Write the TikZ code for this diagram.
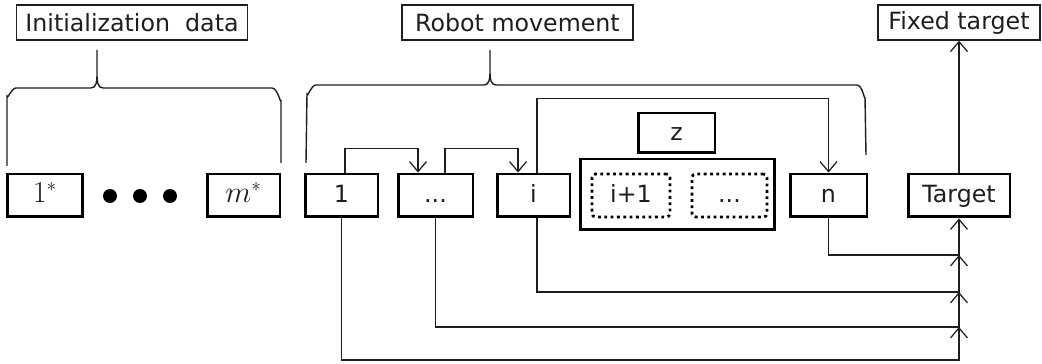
\documentclass[tikz,border=0pt]{standalone}
\usepackage{amsmath}
\usepackage{fontspec}
\usetikzlibrary{arrows.meta,positioning,calc}
\newfontfamily\boxfont{DejaVu Sans}
\definecolor{ink}{RGB}{30,30,30}
\tikzset{
  lbl/.style={draw=ink,line width=0.8pt,minimum height=0.70cm,inner sep=1pt,font=\boxfont\fontsize{13.5}{15}\selectfont,text=ink},
  blk/.style={draw=black,line width=1.7pt,minimum height=0.86cm,inner sep=1pt,text height=10pt,text depth=2pt,font=\boxfont\fontsize{13.5}{15}\selectfont,text=ink},
  dotblk/.style={draw=black,line width=1.6pt,dotted,rounded corners=2pt,minimum height=0.86cm,inner sep=1pt,text height=10pt,text depth=2pt,font=\boxfont\fontsize{13.5}{15}\selectfont,text=ink},
  grp/.style={draw=black,line width=1.7pt,minimum width=3.9cm,minimum height=1.42cm},
  arr/.style={-{Straight Barb[length=2mm,width=3.4mm]},line width=0.7pt,draw=ink},
  brc/.style={line width=0.8pt,draw=ink},
  blob/.style={circle,fill=black,minimum size=0.28cm,inner sep=0pt},
}
\begin{document}
\begin{tikzpicture}[x=0.02cm,y=-0.02cm]
\useasboundingbox (0,0) rectangle (1042,364);
% headings
\node[lbl,minimum width=4.62cm] (hinit) at (132,22.5) {Initialization\ \ data};
\node[lbl,minimum width=4.62cm] (hrobot) at (517.5,22.5) {Robot movement};
\node[lbl,minimum width=3.24cm] (hfixed) at (959,22.5) {Fixed target};
% braces
\draw[brc] (7,166) -- (7,96) to[out=-90,in=180] (16,88) -- (91,88)
  to[out=0,in=-90] (97,76) -- (97,50) -- (97,76) to[out=-90,in=180] (103,88)
  -- (272,88) to[out=0,in=-90] (281,100) -- (281,163);
\draw[brc] (306,163) -- (307,94) to[out=-90,in=180] (316,85) -- (484,85)
  to[out=0,in=-90] (490,73) -- (490,50) -- (490,73) to[out=-90,in=180] (496,85)
  -- (857,85) to[out=0,in=-90] (865,97) -- (866,155);
% initialization data
\node[blk,minimum width=1.52cm,font=\fontsize{16}{18}\selectfont] (s1) at (45,195.5) {$1^{*}$};
\node[blob] (d1) at (110,196) {};
\node[blob] (d2) at (140,196) {};
\node[blob] (d3) at (170,196) {};
\node[blk,minimum width=1.46cm,font=\fontsize{16}{18}\selectfont] (sm) at (243.5,195.5) {$m^{*}$};
% robot movement
\node[blk,minimum width=1.46cm] (r1) at (341.5,195.5) {1};
\node[blk,minimum width=1.50cm] (rdots) at (435.5,195.5) {...};
\node[blk,minimum width=1.46cm] (ri) at (533.5,195.5) {i};
\node[grp] (grp) at (677.5,194.5) {};
\node[blk,minimum width=1.54cm,minimum height=0.80cm] (z) at (676.5,133) {z};
\node[dotblk,minimum width=1.56cm] (ri1) at (631,195.5) {i+1};
\node[dotblk,minimum width=1.50cm] (rmore) at (729.5,195.5) {...};
\node[blk,minimum width=1.54cm] (rn) at (828.5,195.5) {n};
\node[blk,minimum width=2.04cm] (target) at (959,195.5) {Target};
% joints on the way up to the target
\coordinate (j0) at (959,360);
\coordinate (j1) at (959,327);
\coordinate (j2) at (959,292);
\coordinate (j3) at (959,255);
% moves
\draw[arr] ([xshift=0.07cm]r1.north) -- ++(0,-24) -| ([xshift=-0.35cm]rdots.north);
\draw[arr] ([xshift=0.19cm]rdots.north) -- ++(0,-24) -| ([xshift=-0.31cm]ri.north);
\draw[arr] ([xshift=0.07cm]ri.north) -- ++(0,-74) -| (rn.north);
\draw[arr] (target.north) -- (hfixed.south);
\draw[arr] (r1.south) |- (j0) -- (j1);
\draw[arr] (rdots.south) |- (j1) -- (j2);
\draw[arr] ([xshift=0.07cm]ri.south) |- (j2) -- (j3);
\draw[arr] (rn.south) |- (j3) -- (target.south);
\end{tikzpicture}
\end{document}
